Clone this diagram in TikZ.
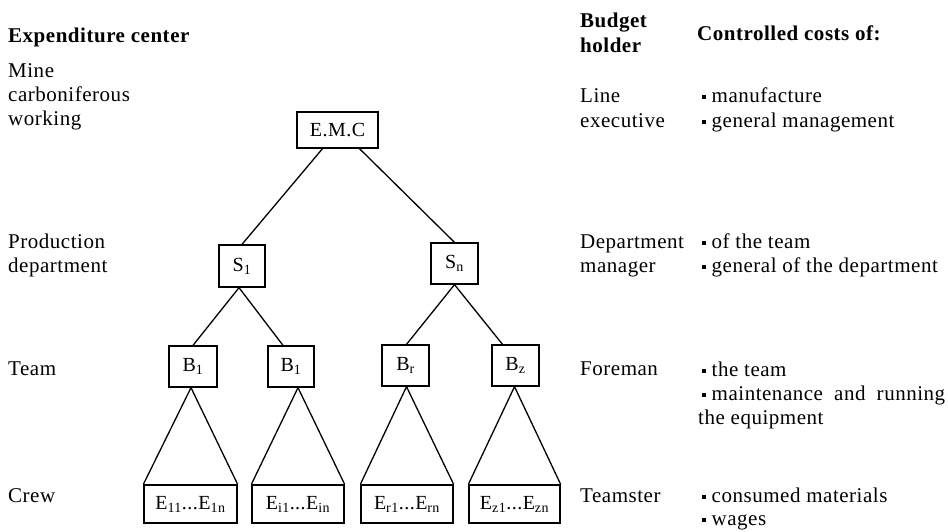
\documentclass[tikz,border=0pt]{standalone}
\usepackage{fontspec}
\setmainfont{Liberation Serif}[LetterSpace=2.5]
\newcommand{\bul}{\raisebox{0.3ex}{\rule{4pt}{4pt}}\hspace{5.5pt}}
\begin{document}
\begin{tikzpicture}[x=1pt,y=-1pt,
  every node/.style={font=\fontsize{21}{24}\selectfont},
  box/.style={draw, line width=1.3pt, inner sep=0pt, font=\fontsize{20}{24}\selectfont},
  lbl/.style={anchor=base west, inner sep=0pt},
  hd/.style={lbl, font=\fontsize{21}{24}\selectfont\bfseries},
  conn/.style={line width=1.3pt}]
\useasboundingbox (0,0) rectangle (948,531);
% tree boxes
\node[box, minimum width=81pt, minimum height=36pt] (emc) at (337.5,130) {E.M.C};
\node[box, minimum width=46pt, minimum height=42pt] (s1) at (242,266) {S\textsubscript{1}};
\node[box, minimum width=47pt, minimum height=41pt] (sn) at (454.5,263.5) {S\textsubscript{n}};
\node[box, minimum width=48pt, minimum height=41pt] (b1a) at (193,366.5) {B\textsubscript{1}};
\node[box, minimum width=46pt, minimum height=41pt] (b1b) at (291,366.5) {B\textsubscript{1}};
\node[box, minimum width=47pt, minimum height=41pt] (br) at (405.5,365.5) {B\textsubscript{r}};
\node[box, minimum width=47pt, minimum height=41pt] (bz) at (515.5,365.5) {B\textsubscript{z}};
\node[box, minimum width=93pt, minimum height=38pt] (e1) at (190.5,504) {E\textsubscript{11}...E\textsubscript{1n}};
\node[box, minimum width=92pt, minimum height=38pt] (e2) at (298,504) {E\textsubscript{i1}...E\textsubscript{in}};
\node[box, minimum width=92pt, minimum height=38pt] (e3) at (407,504) {E\textsubscript{r1}...E\textsubscript{rn}};
\node[box, minimum width=91pt, minimum height=38pt] (e4) at (514.5,504) {E\textsubscript{z1}...E\textsubscript{zn}};
% connectors
\draw[conn] ([xshift=-15pt]emc.south) -- (s1.north);
\draw[conn] ([xshift=22pt]emc.south) -- (sn.north);
\draw[conn] ([xshift=-3pt]s1.south) -- (b1a.north);
\draw[conn] ([xshift=-3pt]s1.south) -- ([xshift=-8pt]b1b.north);
\draw[conn] (sn.south) -- ([xshift=1pt]br.north);
\draw[conn] (sn.south) -- ([xshift=-13pt]bz.north);
\draw[conn, line join=miter] (e1.north west) -- ([xshift=-2pt]b1a.south) -- (e1.north east);
\draw[conn, line join=miter] (e2.north west) -- ([xshift=7pt]b1b.south) -- (e2.north east);
\draw[conn, line join=miter] (e3.north west) -- ([xshift=1pt]br.south) -- (e3.north east);
\draw[conn, line join=miter] (e4.north west) -- ([xshift=-1pt]bz.south) -- (e4.north east);
% headers
\node[hd] (h1) at (8,42) {Expenditure center};
\node[hd] (h2a) at (580,27) {Budget};
\node[hd] (h2b) at (580,52) {holder};
\node[hd] (h3) at (697,40) {Controlled costs of:};
% level 1
\node[lbl] (l1a) at (8,77) {Mine};
\node[lbl] (l1b) at (8,101) {carboniferous};
\node[lbl] (l1c) at (8,125) {working};
\node[lbl] (m1a) at (580,102) {Line};
\node[lbl] (m1b) at (580,127) {executive};
\node[lbl] (r1a) at (702,102) {\bul manufacture};
\node[lbl] (r1b) at (702,127) {\bul general management};
% level 2
\node[lbl] (l2a) at (8,248) {Production};
\node[lbl] (l2b) at (8,272) {department};
\node[lbl] (m2a) at (580,248) {Department};
\node[lbl] (m2b) at (580,272) {manager};
\node[lbl] (r2a) at (702,248) {\bul of the team};
\node[lbl] (r2b) at (702,272) {\bul general of the department};
% level 3
\node[lbl] (l3) at (8,375) {Team};
\node[lbl] (m3) at (580,375) {Foreman};
\node[lbl] (r3a) at (702,376) {\bul the team};
\node[lbl] (r3b) at (702,400) {\makebox[243pt][s]{\bul maintenance and running}};
\node[lbl] (r3c) at (698,424) {the equipment};
% level 4
\node[lbl] (l4) at (8,502) {Crew};
\node[lbl] (m4) at (580,502) {Teamster};
\node[lbl] (r4a) at (702,502) {\bul consumed materials};
\node[lbl] (r4b) at (702,525) {\bul wages};
\end{tikzpicture}
\end{document}
